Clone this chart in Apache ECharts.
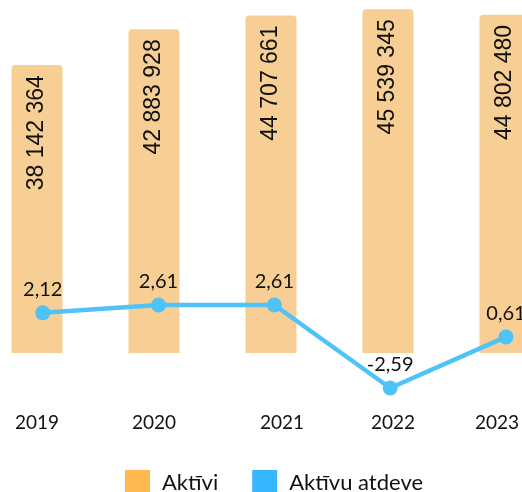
<!DOCTYPE html>
<html lang="lv">
<head>
    <meta charset="UTF-8">
    <title>Aktīvi</title>
    <style>
        html, body { margin: 0; padding: 0; background: #fff; }
        #main { width: 522px; height: 492px; }
    </style>
</head>
<body>
    <div id="main"></div>
    <script src="https://cdn.jsdelivr.net/npm/echarts@6/dist/echarts.min.js"></script>
    <script>
        var years = ['2019', '2020', '2021', '2022', '2023'];
        var aktivi = [38142364, 42883928, 44707661, 45539345, 44802480];
        var atdeve = [2.12, 2.61, 2.61, -2.59, 0.61];

        // label nudges (px) so the year text sits like in the original
        var yearShift = { '2019': 0, '2020': 0, '2021': 11, '2022': 5, '2023': -8 };

        function thousands(v) {
            return String(v).replace(/\B(?=(\d{3})+(?!\d))/g, ' ');
        }

        var rich = {};
        years.forEach(function (y) {
            var s = yearShift[y];
            rich['y' + y] = {
                fontFamily: 'Lato', fontSize: 19, color: '#111',
                padding: s >= 0 ? [0, 0, 0, 2 * s] : [0, -2 * s, 0, 0]
            };
        });

        var chart = echarts.init(document.getElementById('main'));

        chart.setOption({
            animation: false,
            grid: [
                // bars: ticks sit on the bar centres (37 ... 506)
                { left: 37, right: 16, top: 0, bottom: 139 },
                { left: 42.7, right: 16, top: 0, height: 400 }
            ],
            xAxis: [{
                type: 'category',
                gridIndex: 0,
                data: years,
                boundaryGap: false,
                axisLine: { show: false },
                axisTick: { show: false },
                splitLine: { show: false },
                axisLabel: {
                    margin: 60,
                    formatter: function (v) { return '{y' + v + '|' + v + '}'; },
                    rich: rich
                }
            }, {
                type: 'category',
                gridIndex: 1,
                data: years,
                boundaryGap: false,
                show: false
            }],
            yAxis: [{
                type: 'value',
                gridIndex: 0,
                min: 0,
                max: 46770000,
                show: false
            }, {
                type: 'value',
                gridIndex: 1,
                min: -3.342,
                max: 21.72,
                show: false
            }],
            legend: {
                left: 125,
                top: 470,
                padding: 0,
                itemWidth: 25,
                itemHeight: 25,
                itemGap: 34,
                icon: 'rect',
                textStyle: { fontFamily: 'Lato', fontSize: 22, color: '#111', padding: [3, 0, 0, 7] },
                data: [
                    { name: 'Aktīvi', itemStyle: { color: '#FFB950' } },
                    { name: 'Aktīvu atdeve', itemStyle: { color: '#38B6FF' } }
                ]
            },
            series: [{
                name: 'Aktīvi',
                type: 'bar',
                xAxisIndex: 0,
                yAxisIndex: 0,
                data: aktivi,
                barWidth: 51,
                clip: false,
                itemStyle: { color: '#F7CF94', borderRadius: [4, 4, 0, 0] },
                label: {
                    show: true,
                    position: 'insideTop',
                    rotate: 90,
                    align: 'right',
                    verticalAlign: 'middle',
                    distance: 10,
                    fontFamily: 'Liberation Sans',
                    fontSize: 23,
                    color: '#111',
                    formatter: function (p) { return thousands(p.value); }
                }
            }, {
                name: 'Aktīvu atdeve',
                type: 'line',
                xAxisIndex: 1,
                yAxisIndex: 1,
                data: atdeve,
                symbol: 'circle',
                symbolSize: 15,
                clip: false,
                lineStyle: { color: '#4FC3F7', width: 4.5 },
                itemStyle: { color: '#4FC3F7' },
                label: {
                    show: true,
                    position: 'top',
                    distance: 6,
                    fontFamily: 'Lato',
                    fontSize: 20,
                    color: '#111',
                    formatter: function (p) { return String(p.value.toFixed(2)).replace('.', ','); }
                }
            }]
        });
    </script>
</body>
</html>
